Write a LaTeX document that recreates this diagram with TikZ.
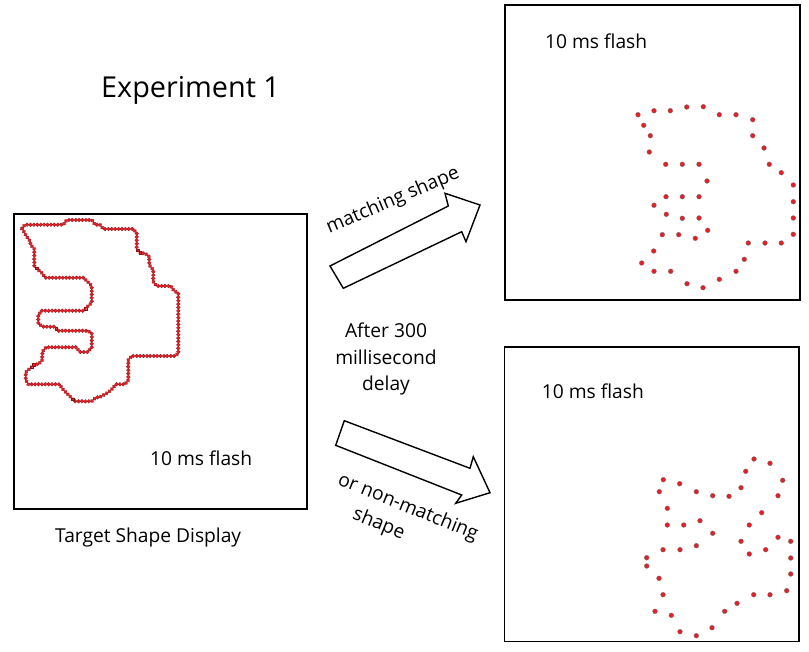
\documentclass[tikz,border=0pt]{standalone}
\usepackage{fontspec}
\setmainfont{Open Sans}
\usetikzlibrary{arrows.meta}
\usetikzlibrary{decorations.markings}
\definecolor{vermelho}{RGB}{230,30,38}
\definecolor{cinza}{RGB}{110,110,110}

\begin{document}
\begin{tikzpicture}[>=Stealth, x=1pt, y=-1pt,
    caixa/.style={draw, line width=1.8pt},
    seta/.style={draw, line width=1.4pt, line join=miter, fill=white},
    rotulo/.style={inner sep=0pt, font=\fontsize{19.2}{26.5}\selectfont},
    ponto/.style={fill=vermelho, draw=cinza, line width=0.3pt},
    contorno/.style={postaction={decorate, decoration={markings,
        mark=between positions 0 and 1 step 3.4pt with {\path[ponto, draw=vermelho!60!black, line width=0.25pt] (0,0) circle (1.9pt);}}}}]

    \useasboundingbox (0,0) rectangle (809,651);

    % titulo
    \node[rotulo, anchor=base west, font=\fontsize{28.8}{34}\selectfont] (titulo) at (101,97) {Experiment 1};

    % caixas
    \draw[caixa] (14,214) rectangle (307,509);
    \draw[caixa] (505,5) rectangle (800,300);
    \draw[caixa] (504.5,347) rectangle (799,641.5);

    % textos das caixas
    \node[rotulo, anchor=base west] (flashA) at (150,465.7) {10 ms flash};
    \node[rotulo, anchor=base west] (alvo) at (55,542) {Target Shape Display};
    \node[rotulo, anchor=base west] (flashB) at (545,48.3) {10 ms flash};
    \node[rotulo, anchor=base west] (flashC) at (541.7,398.3) {10 ms flash};

    % forma alvo (contorno pontilhado)
    \path[contorno]
        (22,228.3) -- (25,224.7) -- (63.3,224.7) -- (66.7,220) -- (92,220) -- (95,224.7)
        -- (100,224.7) -- (103.3,229) -- (133.3,229) -- (136.7,233.3) -- (136.7,249.3)
        -- (140.7,253.3) -- (145,253.3) -- (149.3,256.7) -- (149.3,265) -- (153.3,270)
        -- (153.3,281.7) -- (156.7,286) -- (170.7,286) -- (174,290.7) -- (178.3,293.3)
        -- (178.3,353.3) -- (175,356) -- (131.7,356) -- (128.3,360) -- (128.3,380)
        -- (125,384.3) -- (116,384.3) -- (111.7,389.3) -- (107.7,392.7) -- (99.3,397.3)
        -- (96,397.3) -- (91.7,401.3) -- (75,401.3) -- (71,397.3) -- (66.7,393.3)
        -- (62.7,389) -- (59.3,384.3) -- (28.3,384.3) -- (25.7,380) -- (25.7,372.3)
        -- (30,368.3) -- (34,364.3) -- (38.3,364.3) -- (42.3,360) -- (42.3,351.7)
        -- (46,347.3) -- (76,347.3) -- (80,352) -- (87.7,352) -- (91.7,347.3)
        -- (91.7,333.3) -- (87.7,330.7) -- (58.3,330.7) -- (54.3,326.7) -- (42.3,326.7)
        -- (38.3,323.3) -- (38.3,315) -- (41.7,310.7) -- (83.3,310.7) -- (87.3,306.7)
        -- (91.7,302.7) -- (91.7,286) -- (87.7,281.7) -- (83.3,277.7) -- (45,277.7)
        -- (42.3,273.3) -- (38.3,270) -- (34.3,266) -- (34.3,249) -- (30.7,245)
        -- (30,241) -- (26.7,236.7) -- cycle;

    % forma igual
    \foreach \x/\y in {638/114.7, 654/110.7, 670.3/110.7, 686.7/107, 703.3/106.7,
        719.3/114.7, 736/114.7, 752.7/119.7, 643.7/125.3, 650.3/135.7, 752.7/135.7,
        649.3/152, 764/148, 665.7/164.3, 682.3/164.3, 699/164.3, 769.3/164.3,
        781.3/172.7, 707/181, 793.3/185, 666/196.7, 682.3/196.7, 699/196.7,
        793.3/201.7, 654/205.3, 666.3/214.3, 682.3/218.3, 699/218, 793.3/218,
        707.7/230.3, 662.3/234.7, 678.7/234.7, 695.3/238.3, 793.3/234.3, 748.3/243,
        765/243, 781.3/243, 653.7/251, 744.3/259.3, 641.7/263, 654/271.3,
        670.7/271.3, 736/271.3, 719.3/279.3, 687/283.7, 703/287.7}
        \path[ponto] (\x,\y) circle (2.4pt);

    % forma diferente
    \foreach \x/\y in {754/459, 770/463.3, 745.7/471.3, 782.7/480.3, 663.3/479.7,
        679.7/483.7, 659.3/491.7, 696.3/491.7, 712.7/495.7, 729/496.3, 741/487.7,
        778/495.7, 667.3/508.3, 761.7/512.7, 667.3/525, 683.7/525, 700/520.7,
        749.3/525, 712.7/533.3, 741/541.3, 778/537.3, 790.7/541.3, 663/549.7,
        680/549.7, 696.3/545.7, 749.3/554, 765.7/549.7, 646.7/557.7, 790.7/558,
        646.7/566, 659/578.3, 790.7/574, 663/594.7, 753.7/594.7, 770/594.7,
        786.7/590.7, 737/603.3, 655/611.3, 671.3/615.3, 724.7/611.3, 680/631.7,
        696.3/635.7, 712/627.7}
        \path[ponto] (\x,\y) circle (2.4pt);

    % setas
    \draw[seta] (330,266) -- (448.3,206) -- (445,193.3) -- (480,205) -- (466,241.7)
        -- (461.7,231.7) -- (343.3,288.3) -- cycle;
    \draw[seta] (344.3,420.7) -- (470,468.3) -- (473.3,456.7) -- (490,492.7)
        -- (455.7,503.3) -- (461.7,495) -- (335.7,445.3) -- cycle;

    % legendas das setas
    \node[rotulo, rotate=23] (igual) at (393,201) {matching shape};
    \node[rotulo, align=center] (atraso) at (386,359) {After 300\\millisecond\\delay};
    \node[rotulo, rotate=-22, align=center] (diferente) at (403,520) {or non-matching\\shape\hspace*{42pt}};

\end{tikzpicture}
\end{document}
